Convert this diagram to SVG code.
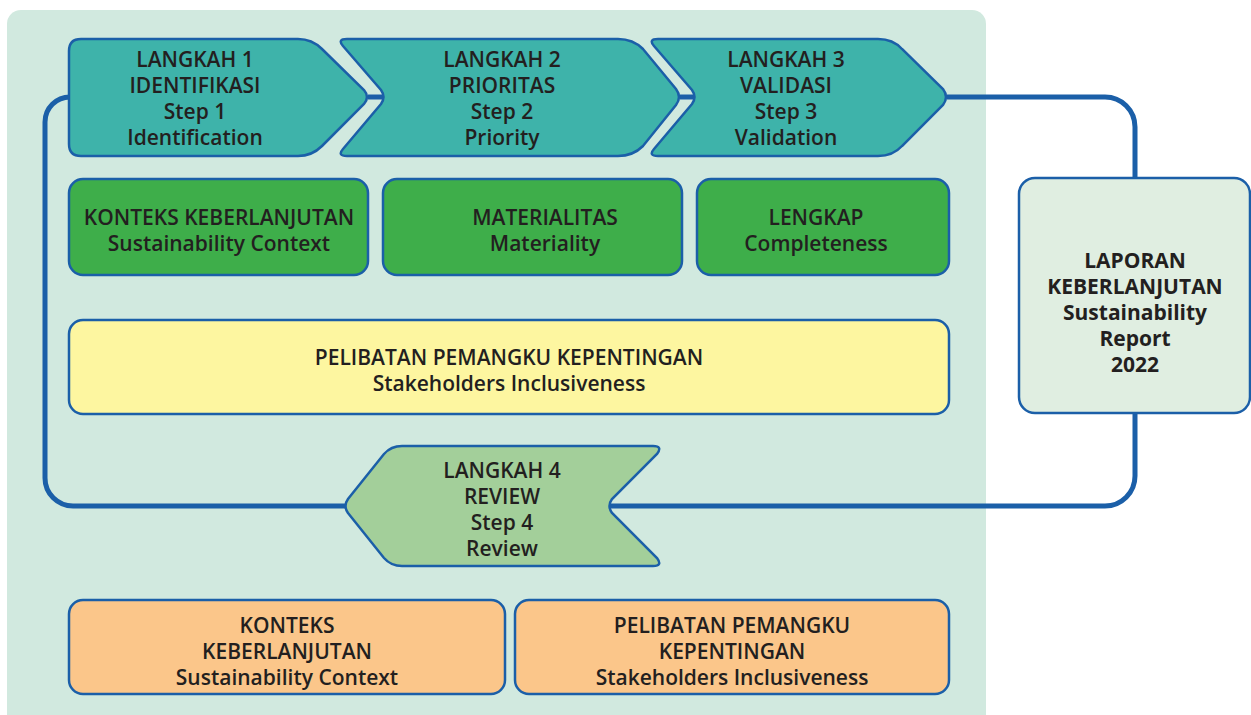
<svg xmlns="http://www.w3.org/2000/svg" width="1251" height="715" viewBox="0 0 1251 715">
  <style>
    .node { stroke: #1b5fa8; stroke-width: 2.5; }
    .teal { fill: #3eb3aa; }
    .green { fill: #3eae4a; }
    .yellow { fill: #fdf6a0; }
    .orange { fill: #fbc68a; }
    .review { fill: #a3cf9a; }
    .report { fill: #e0eee1; }
    .link { fill: none; stroke: #1b5fa8; stroke-width: 5; }
    text { font-family: "Open Sans", "Noto Sans", "Liberation Sans", sans-serif; font-weight: 600; font-size: 21px; fill: #231f20; text-anchor: middle; }
    #report text { font-weight: 700; }
  </style>

  <!-- panel behind the process -->
  <rect x="7" y="10" width="979" height="720" rx="14" fill="#d1e9df"/>

  <g id="connectors">
    <path class="link" d="M 70,97 A 25 25 0 0 0 45 122 V 478 A 28 28 0 0 0 73 506 H 345"/>
    <path class="link" d="M 368,97 H 387"/>
    <path class="link" d="M 680,97 H 699"/>
    <path class="link" d="M 947,97 H 1105 A 30 30 0 0 1 1135 127 V 179"/>
    <path class="link" d="M 1135,412 V 476 A 30 30 0 0 1 1105 506 H 608"/>
  </g>

  <g id="step1">
    <path class="node teal" d="M 81,39 H 298 Q 312,39 322,49 L 364,90 Q 370,97 364,104 L 322,146 Q 312,156 298,156 H 81 Q 69,156 69,144 V 51 Q 69,39 81,39 Z"/>
    <text x="195" y="67">LANGKAH 1</text>
    <text x="195" y="93">IDENTIFIKASI</text>
    <text x="195" y="119">Step 1</text>
    <text x="195" y="145">Identification</text>
  </g>

  <g id="step2">
    <path class="node teal" d="M 347,39 H 618 Q 633,39 643,49 L 676,89 Q 682,97 676,105 L 643,146 Q 633,156 618,156 H 347 Q 337,156 343,149 L 381,104 Q 386,97 381,90 L 343,46 Q 337,39 347,39 Z"/>
    <text x="502" y="67">LANGKAH 2</text>
    <text x="502" y="93">PRIORITAS</text>
    <text x="502" y="119">Step 2</text>
    <text x="502" y="145">Priority</text>
  </g>

  <g id="step3">
    <path class="node teal" d="M 658,39 H 878 Q 893,39 902,49 L 943,89 Q 949,97 943,105 L 902,146 Q 893,156 878,156 H 658 Q 648,156 654,149 L 692,104 Q 697,97 692,90 L 654,46 Q 648,39 658,39 Z"/>
    <text x="786" y="67">LANGKAH 3</text>
    <text x="786" y="93">VALIDASI</text>
    <text x="786" y="119">Step 3</text>
    <text x="786" y="145">Validation</text>
  </g>

  <g id="context">
    <rect class="node green" x="69" y="179" width="299" height="96" rx="14"/>
    <text x="219" y="225">KONTEKS KEBERLANJUTAN</text>
    <text x="219" y="251">Sustainability Context</text>
  </g>

  <g id="materiality">
    <rect class="node green" x="383" y="179" width="299" height="96" rx="14"/>
    <text x="545" y="225">MATERIALITAS</text>
    <text x="545" y="251">Materiality</text>
  </g>

  <g id="completeness">
    <rect class="node green" x="697" y="179" width="252" height="96" rx="14"/>
    <text x="816" y="225">LENGKAP</text>
    <text x="816" y="251">Completeness</text>
  </g>

  <g id="inclusiveness">
    <rect class="node yellow" x="69" y="320" width="880" height="94" rx="14"/>
    <text x="509" y="365">PELIBATAN PEMANGKU KEPENTINGAN</text>
    <text x="509" y="391">Stakeholders Inclusiveness</text>
  </g>

  <g id="report">
    <rect class="node report" x="1019" y="178" width="231" height="235" rx="16"/>
    <text x="1135" y="268">LAPORAN</text>
    <text x="1135" y="294">KEBERLANJUTAN</text>
    <text x="1135" y="320">Sustainability</text>
    <text x="1135" y="346">Report</text>
    <text x="1135" y="372">2022</text>
  </g>

  <g id="step4">
    <path class="node review" d="M 402,446 H 653 Q 663,446 657,454 L 612,499 Q 607,506 612,513 L 657,558 Q 663,566 653,566 H 402 Q 391,566 384,558 L 348,513 Q 343,506 348,499 L 384,454 Q 391,446 402,446 Z"/>
    <text x="502" y="478">LANGKAH 4</text>
    <text x="502" y="504">REVIEW</text>
    <text x="502" y="530">Step 4</text>
    <text x="502" y="556">Review</text>
  </g>

  <g id="context-review">
    <rect class="node orange" x="69" y="600" width="436" height="94" rx="14"/>
    <text x="287" y="633">KONTEKS</text>
    <text x="287" y="659">KEBERLANJUTAN</text>
    <text x="287" y="685">Sustainability Context</text>
  </g>

  <g id="inclusiveness-review">
    <rect class="node orange" x="515" y="600" width="434" height="94" rx="14"/>
    <text x="732" y="633">PELIBATAN PEMANGKU</text>
    <text x="732" y="659">KEPENTINGAN</text>
    <text x="732" y="685">Stakeholders Inclusiveness</text>
  </g>
</svg>
